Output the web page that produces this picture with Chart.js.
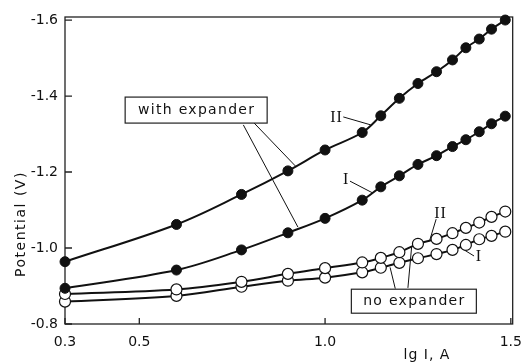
<!DOCTYPE html>
<html>
<head>
<meta charset="utf-8">
<script src="https://cdn.jsdelivr.net/npm/chart.js@4.4.1/dist/chart.umd.min.js"></script>
<style>
  html, body { margin: 0; padding: 0; background: #fff; }
</style>
</head>
<body>
<canvas id="chart" width="532" height="362"></canvas>
<script>
// lg I values (same for all four curves)
const lgI = [0.30, 0.60, 0.775, 0.90, 1.00, 1.10, 1.15, 1.20, 1.25, 1.30, 1.343, 1.379, 1.415, 1.448, 1.485];

// potentials (V)
const withExpII = [-0.964, -1.062, -1.141, -1.203, -1.258, -1.304, -1.348, -1.394, -1.433, -1.464, -1.495, -1.527, -1.550, -1.576, -1.600];
const withExpI  = [-0.894, -0.942, -0.995, -1.040, -1.078, -1.126, -1.161, -1.190, -1.220, -1.243, -1.267, -1.285, -1.306, -1.327, -1.347];
const noExpII   = [-0.879, -0.891, -0.911, -0.932, -0.947, -0.962, -0.974, -0.989, -1.011, -1.024, -1.039, -1.053, -1.067, -1.082, -1.096];
const noExpI    = [-0.859, -0.874, -0.898, -0.914, -0.922, -0.936, -0.948, -0.961, -0.973, -0.984, -0.995, -1.008, -1.023, -1.032, -1.043];

// tick labels
const xTicks = [0.3, 0.5, 1.0, 1.5];
const yTicks = [-0.8, -1.0, -1.2, -1.4, -1.6];

const FONT = '"DejaVu Sans", sans-serif';
const INK = '#111';

function toPoints(ys) {
    return lgI.map((x, i) => ({ x: x, y: ys[i] }));
}

// annotations in data units: leader lines, roman numerals, boxed labels
const leaders = [
    [0.780, -1.324, 0.927, -1.055],
    [0.809, -1.329, 0.920, -1.216],
    [1.049, -1.345, 1.123, -1.324],
    [1.067, -1.176, 1.128, -1.145],
    [1.299, -1.076, 1.281, -1.018],
    [1.401, -0.979, 1.361, -1.003],
    [1.189, -0.893, 1.175, -0.949],
    [1.223, -0.895, 1.233, -1.003]
];
const numerals = [
    ['II', 1.031, -1.342],
    ['I', 1.057, -1.179],
    ['II', 1.311, -1.089],
    ['I', 1.414, -0.976]
];
const boxes = [
    ['with expander', 0.653, -1.363, 142, 26],
    ['no expander', 1.239, -0.860, 125, 24]
];

const overlay = {
    id: 'overlay',
    beforeDatasetsDraw(chart) {
        const ctx = chart.ctx;
        const a = chart.chartArea;
        const xs = chart.scales.x, ys = chart.scales.y;
        ctx.save();
        ctx.strokeStyle = '#222';
        ctx.lineWidth = 1.3;
        ctx.strokeRect(a.left, a.top, a.right - a.left, a.bottom - a.top);
        // inward ticks
        ctx.beginPath();
        xs.ticks.forEach(t => {
            const px = xs.getPixelForValue(t.value);
            ctx.moveTo(px, a.bottom);
            ctx.lineTo(px, a.bottom - 6);
        });
        ys.ticks.forEach(t => {
            const py = ys.getPixelForValue(t.value);
            ctx.moveTo(a.left, py);
            ctx.lineTo(a.left + 7, py);
        });
        ctx.stroke();

        // leader lines
        ctx.lineWidth = 1;
        ctx.strokeStyle = INK;
        ctx.beginPath();
        leaders.forEach(l => {
            ctx.moveTo(xs.getPixelForValue(l[0]), ys.getPixelForValue(l[1]));
            ctx.lineTo(xs.getPixelForValue(l[2]), ys.getPixelForValue(l[3]));
        });
        ctx.stroke();
        ctx.restore();
    },
    afterDraw(chart) {
        const ctx = chart.ctx;
        const xs = chart.scales.x, ys = chart.scales.y;
        ctx.save();
        ctx.fillStyle = INK;
        ctx.textAlign = 'center';
        ctx.textBaseline = 'middle';

        // roman numerals
        ctx.font = '16px "Liberation Serif", serif';
        ctx.letterSpacing = '1px';
        numerals.forEach(n => {
            ctx.fillText(n[0], xs.getPixelForValue(n[1]), ys.getPixelForValue(n[2]));
        });

        // boxed labels
        ctx.font = '14px ' + FONT;
        ctx.letterSpacing = '1.3px';
        boxes.forEach(b => {
            const cx = xs.getPixelForValue(b[1]);
            const cy = ys.getPixelForValue(b[2]);
            ctx.fillStyle = '#fff';
            ctx.fillRect(cx - b[3] / 2, cy - b[4] / 2, b[3], b[4]);
            ctx.strokeStyle = '#222';
            ctx.lineWidth = 1.2;
            ctx.strokeRect(cx - b[3] / 2, cy - b[4] / 2, b[3], b[4]);
            ctx.fillStyle = INK;
            ctx.fillText(b[0], cx + 0.5, cy);
        });

        // axis titles
        ctx.letterSpacing = '1.5px';
        ctx.save();
        ctx.translate(21, 224);
        ctx.rotate(-Math.PI / 2);
        ctx.fillText('Potential (V)', 0, 0);
        ctx.restore();
        ctx.letterSpacing = '1px';
        ctx.textBaseline = 'alphabetic';
        ctx.fillText('lg I, A', 427, 359);
        ctx.restore();
    }
};

function series(label, ys, filled) {
    return {
        label: label,
        data: toPoints(ys),
        showLine: true,
        tension: 0.35,
        clip: false,
        borderColor: INK,
        borderWidth: 2,
        pointRadius: filled ? 5 : 5.5,
        pointBorderWidth: filled ? 1 : 1.2,
        pointBackgroundColor: filled ? INK : '#fff',
        pointBorderColor: INK
    };
}

new Chart(document.getElementById('chart'), {
    type: 'scatter',
    data: {
        datasets: [
            series('with expander II', withExpII, true),
            series('with expander I', withExpI, true),
            series('no expander II', noExpII, false),
            series('no expander I', noExpI, false)
        ]
    },
    options: {
        responsive: false,
        animation: false,
        layout: { padding: { top: 17, right: 10, left: 0, bottom: 0 } },
        plugins: {
            legend: { display: false },
            tooltip: { enabled: false }
        },
        scales: {
            x: {
                type: 'linear',
                min: 0.3,
                max: 1.505,
                grid: { display: false, drawTicks: false },
                border: { display: false },
                afterBuildTicks: s => { s.ticks = xTicks.map(v => ({ value: v })); },
                afterFit: s => { s.height = 38; },
                ticks: {
                    padding: 10,
                    color: INK,
                    maxRotation: 0,
                    font: { family: FONT, size: 14 },
                    callback: v => v.toFixed(1)
                }
            },
            y: {
                type: 'linear',
                min: -1.608,
                max: -0.8,
                reverse: true,
                grid: { display: false, drawTicks: false },
                border: { display: false },
                afterBuildTicks: s => { s.ticks = yTicks.map(v => ({ value: v })); },
                afterFit: s => { s.width = 65; },
                ticks: {
                    padding: 7,
                    color: INK,
                    font: { family: FONT, size: 14 },
                    callback: v => v.toFixed(1)
                }
            }
        }
    },
    plugins: [overlay]
});
</script>
</body>
</html>
